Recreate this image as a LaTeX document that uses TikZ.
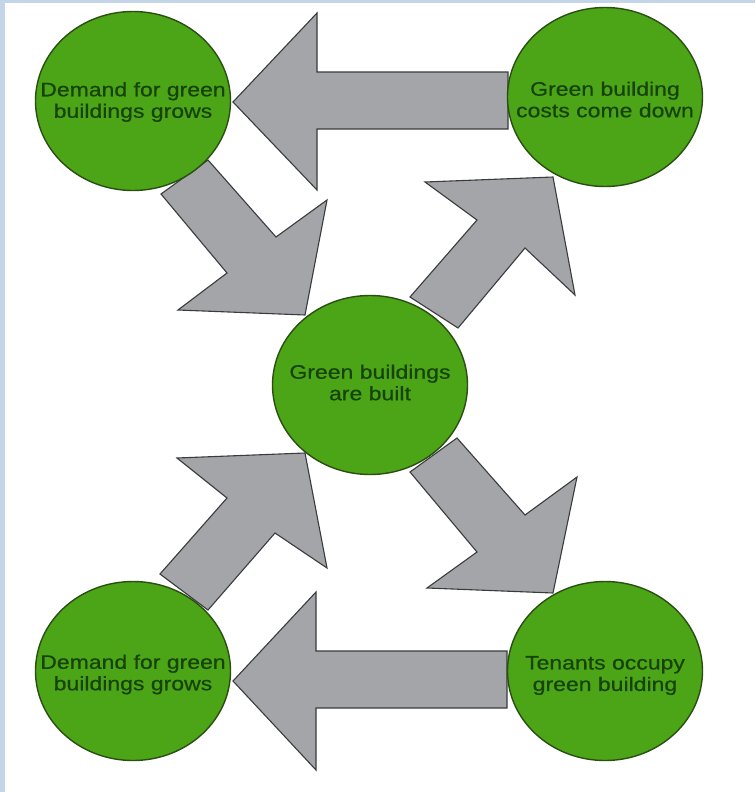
\documentclass[tikz,border=0pt]{standalone}
\usepackage{fontspec}
\setmainfont{Liberation Sans}
\newfontfamily\lblfont[FakeStretch=1.18,FakeBold=0.6]{Liberation Sans}
\usetikzlibrary{shapes.geometric}
\definecolor{frameblue}{HTML}{C4D4E9}
\definecolor{leaf}{HTML}{4BA516}
\definecolor{leafedge}{HTML}{2A4F12}
\definecolor{leaftext}{HTML}{174208}
\definecolor{arrowgray}{HTML}{A3A5A9}
\definecolor{arrowedge}{HTML}{3A3B3D}
\begin{document}
\begin{tikzpicture}[x=1pt,y=-1pt,
  bubble/.style={ellipse, draw=leafedge, line width=1.4pt, fill=leaf,
    minimum width=195pt, minimum height=179pt, inner sep=0pt},
  bubbletext/.style={align=center, inner sep=0pt, text=leaftext,
    font=\lblfont\fontsize{19.5}{21.5}\selectfont},
  blockarrow/.style={draw=arrowedge, fill=arrowgray, line width=1.1pt, line join=miter}]
\useasboundingbox (0,0) rectangle (755,792);
\fill[white] (0,0) rectangle (755,792);
\fill[frameblue] (0,0) rectangle (5,792);
\fill[frameblue] (0,0) rectangle (755,3.5);

% block arrows
\path[blockarrow] (233,102) -- (317,13) -- (317,72) -- (508,72) -- (508,129) -- (317,129) -- (317,190) -- cycle;
\path[blockarrow] (233,681) -- (316,592) -- (316,651) -- (507,651) -- (507,708) -- (316,708) -- (316,770) -- cycle;
\path[blockarrow] (161,194) -- (208,160) -- (276,237) -- (327,200) -- (305,315) -- (178,310) -- (227,273) -- cycle;
\path[blockarrow] (410,472) -- (457,438) -- (525,515) -- (577,477) -- (553,593) -- (427,588) -- (477,552) -- cycle;
\path[blockarrow] (208,610) -- (275,533) -- (327,568) -- (305,453) -- (177,458) -- (227,498) -- (160,574) -- cycle;
\path[blockarrow] (458,328) -- (525,248) -- (575,295) -- (553,177) -- (425,182) -- (477,220) -- (410,297) -- cycle;

% circles
\node[bubble] (tl) at (133,101) {};
\node[bubble] (tr) at (605,97) {};
\node[bubble] (c) at (370,385) {};
\node[bubble] (bl) at (133,671) {};
\node[bubble] (br) at (605,671) {};

% labels
\node[bubbletext] (tltext) at ([yshift=-1pt]tl.center) {Demand for green\\buildings grows};
\node[bubbletext] (trtext) at ([yshift=-2.5pt]tr.center) {Green building\\costs come down};
\node[bubbletext] (ctext) at ([yshift=2.5pt]c.center) {Green buildings\\are built};
\node[bubbletext] (bltext) at ([yshift=-3.5pt]bl.center) {Demand for green\\buildings grows};
\node[bubbletext] (brtext) at ([yshift=-4.5pt]br.center) {Tenants occupy\\green building};
\end{tikzpicture}
\end{document}
